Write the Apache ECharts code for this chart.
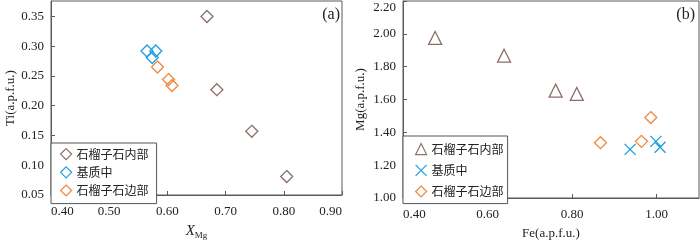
<!DOCTYPE html>
<html><head><meta charset="utf-8">
<script src="https://cdn.jsdelivr.net/npm/echarts@6/dist/echarts.min.js"></script>
<style>html,body{margin:0;padding:0;background:#fff}#c{width:700px;height:245px}</style>
</head><body><div id="c"></div>
<script>
// ---- data: panel (a) XMg vs Ti ----
const seriesNames = ['石榴子石内部', '基质中', '石榴子石边部'];
const innerA_x = [0.668, 0.685, 0.745, 0.805];
const innerA_y = [0.350, 0.227, 0.157, 0.081];
const matrixA_x = [0.565, 0.580, 0.574];
const matrixA_y = [0.292, 0.292, 0.281];
const rimA_x = [0.583, 0.602, 0.608];
const rimA_y = [0.265, 0.244, 0.234];
// ---- data: panel (b) Fe vs Mg ----
const innerB_x = [0.476, 0.639, 0.761, 0.811];
const innerB_y = [1.975, 1.867, 1.654, 1.634];
const matrixB_x = [0.937, 0.998, 1.008];
const matrixB_y = [1.296, 1.345, 1.309];
const rimB_x = [0.867, 0.964, 0.986];
const rimB_y = [1.337, 1.345, 1.490];
// ---- axes ----
const axA_x = {min: 0.40, max: 0.90, interval: 0.10};
const axA_y = {min: 0.05, max: 0.376, interval: 0.05};
const axB_x = {min: 0.40, max: 1.10, interval: 0.20};
const axB_y = {min: 1.00, max: 2.20, interval: 0.20};

const C_BROWN = '#8c6f67', C_BLUE = '#1c9fe0', C_ORANGE = '#f0883c';
const AX = '#5a5a5a';
const SERIF = "'Liberation Serif','Times New Roman',serif";
const CJK = "'Noto Sans CJK SC',sans-serif";
const zip = (xs, ys) => xs.map((x, i) => [x, ys[i]]);
const CROSS = 'path://M0,0L10,10M10,0L0,10';

function lbl(extra) {
  return Object.assign({color: '#222', fontFamily: SERIF, fontSize: 13, margin: 9,
    formatter: v => v.toFixed(2)}, extra);
}
function axis(r, extra) {
  return Object.assign({
    type: 'value', min: r.min, max: r.max, interval: r.interval,
    axisLine: {show: true, lineStyle: {color: AX, width: 1}},
    axisTick: {show: true, inside: true, length: 4, lineStyle: {color: AX}},
    splitLine: {show: false},
    axisLabel: lbl({}),
    nameTextStyle: {color: '#222', fontFamily: SERIF, fontSize: 13}
  }, extra);
}
function sc(name, data, xi, symbol, size, color) {
  return {type: 'scatter', name, data, xAxisIndex: xi, yAxisIndex: xi,
    symbol, symbolSize: size,
    itemStyle: {color: 'rgba(0,0,0,0)', borderColor: color, borderWidth: 1.3, opacity: 1},
    emphasis: {disabled: true}};
}
const legendBase = {
  orient: 'vertical', backgroundColor: '#fff', borderColor: '#555', borderWidth: 1,
  itemWidth: 11, itemHeight: 11, selectedMode: false,
  itemStyle: {borderWidth: 1.2, color: 'rgba(0,0,0,0)'},
  textStyle: {fontFamily: CJK, fontSize: 12, color: '#222'}
};

const chart = echarts.init(document.getElementById('c'), null, {renderer: 'canvas'});
chart.setOption({
  animation: false,
  grid: [
    {left: 51, right: 358, top: 1, bottom: 41, show: true, borderColor: AX, borderWidth: 1},
    {left: 403, right: 1, top: 1, bottom: 41, show: true, borderColor: AX, borderWidth: 1}
  ],
  xAxis: [
    axis(axA_x, {gridIndex: 0, name: '{i|X}{s|Mg}', nameLocation: 'middle', nameGap: 28,
      axisLabel: lbl({margin: 10, alignMinLabel: 'left', alignMaxLabel: 'right'}),
      nameTextStyle: {rich: {
        i: {fontFamily: SERIF, fontSize: 15, fontStyle: 'italic', color: '#222'},
        s: {fontFamily: SERIF, fontSize: 9, color: '#222', padding: [8, 0, 0, 0]}}}}),
    axis(axB_x, {gridIndex: 1, name: 'Fe(a.p.f.u.)', nameLocation: 'middle', nameGap: 29,
      axisLabel: lbl({margin: 10, alignMinLabel: 'left', showMaxLabel: false})})
  ],
  yAxis: [
    axis(axA_y, {gridIndex: 0, name: 'Ti(a.p.f.u.)', nameLocation: 'middle', nameGap: 34,
      axisLabel: lbl({margin: 7, showMaxLabel: false})}),
    axis(axB_y, {gridIndex: 1, name: 'Mg(a.p.f.u.)', nameLocation: 'middle', nameGap: 36,
      axisLabel: lbl({margin: 7, verticalAlignMaxLabel: 'top'})})
  ],
  title: [
    {text: '(a)', right: 360, top: 7, padding: 0,
      textStyle: {fontFamily: SERIF, fontSize: 16, fontWeight: 'normal', color: '#222'}},
    {text: '(b)', right: 5, top: 7, padding: 0,
      textStyle: {fontFamily: SERIF, fontSize: 16, fontWeight: 'normal', color: '#222'}}
  ],
  legend: [
    Object.assign({}, legendBase, {left: 51, top: 143, padding: [5, 8, 7, 9], itemGap: 6,
      data: [{name: seriesNames[0], icon: 'diamond'}, {name: seriesNames[1], icon: 'diamond'},
             {name: seriesNames[2], icon: 'diamond'}]}),
    Object.assign({}, legendBase, {left: 403, top: 136, padding: [7, 4, 6, 12], itemGap: 9,
      data: [{name: seriesNames[0], icon: 'triangle'}, {name: seriesNames[1], icon: CROSS},
             {name: seriesNames[2], icon: 'diamond'}]})
  ],
  series: [
    sc(seriesNames[0], zip(innerA_x, innerA_y), 0, 'diamond', 12, C_BROWN),
    sc(seriesNames[1], zip(matrixA_x, matrixA_y), 0, 'diamond', 12, C_BLUE),
    sc(seriesNames[2], zip(rimA_x, rimA_y), 0, 'diamond', 12, C_ORANGE),
    sc(seriesNames[0], zip(innerB_x, innerB_y), 1, 'triangle', 13, C_BROWN),
    sc(seriesNames[1], zip(matrixB_x, matrixB_y), 1, CROSS, 11, C_BLUE),
    sc(seriesNames[2], zip(rimB_x, rimB_y), 1, 'diamond', 12, C_ORANGE)
  ]
});
</script></body></html>
